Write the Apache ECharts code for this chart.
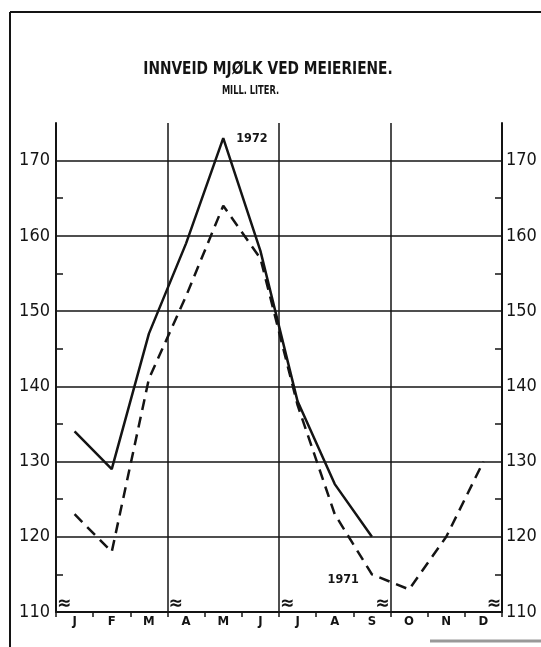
<!DOCTYPE html>
<html>
<head>
<meta charset="utf-8">
<script src="https://cdn.jsdelivr.net/npm/echarts@6/dist/echarts.min.js"></script>
<style>
html,body{margin:0;padding:0;background:#fff;}
#chart{width:541px;height:647px;}
</style>
</head>
<body>
<div id="chart"></div>
<script>
const months = ['J','F','M','A','M','J','J','A','S','O','N','D'];
const values1972 = [134, 129, 147, 159, 173, 158, 138, 127, 120, null, null, null];
const values1971 = [123, 118, 141, 152, 164, 157, 137.5, 123, 115, 113, 120, 130];
const seriesNames = ['1972', '1971'];
const yLabelValues = [110, 120, 130, 140, 150, 160, 170];
const yMinorTicks = [115, 125, 135, 145, 155, 165];
const gridValues = [120, 130, 140, 150, 160, 170];
const titleText = 'INNVEID MJØLK VED MEIERIENE.';
const subtitleText = 'MILL. LITER.';

const INK = '#141414';
const FONT = "'Liberation Sans Narrow', 'DejaVu Sans Condensed', 'Liberation Sans', sans-serif";

const chart = echarts.init(document.getElementById('chart'), null, {renderer: 'canvas'});

function yAxisCfg(pos) {
  return {
    type: 'value', position: pos, min: 110, max: 175,
    axisLine: {show: true, onZero: false, lineStyle: {color: INK, width: 2}},
    axisTick: {show: true, inside: true, length: 7, customValues: yMinorTicks, lineStyle: {color: INK, width: 1.5}},
    splitLine: {show: false},
    axisLabel: {
      show: true, margin: pos === 'left' ? 6 : 4, customValues: yLabelValues,
      fontFamily: FONT, fontSize: 18, color: INK
    }
  };
}

const max1972 = Math.max(...values1972.filter(x => x != null));
const labelled1972 = values1972.map((v) => {
  if (v === max1972) {
    return {value: v, label: {show: true, formatter: seriesNames[0], position: 'right', distance: 13, offset: [0, 1],
      fontFamily: FONT, fontWeight: 'bold', fontSize: 12.5, color: INK}};
  }
  return v;
});
const labelled1971 = values1971.map((v, i) => {
  if (i === 8) {
    return {value: v, label: {show: true, formatter: seriesNames[1], position: 'left', distance: 13, offset: [0, 5],
      fontFamily: FONT, fontWeight: 'bold', fontSize: 12.5, color: INK}};
  }
  return v;
});

const option = {
  backgroundColor: '#fff',
  animation: false,
  grid: {left: 56, right: 39, top: 123, bottom: 35, containLabel: false},
  xAxis: {
    type: 'category', data: months, boundaryGap: true,
    axisLine: {show: true, onZero: false, lineStyle: {color: INK, width: 2}},
    axisTick: {show: true, length: 5, lineStyle: {color: INK, width: 1.5}},
    axisLabel: {margin: 3, fontFamily: FONT, fontWeight: 'bold', fontSize: 13, color: INK, interval: 0},
    splitLine: {show: true, interval: (i) => i % 3 === 0, lineStyle: {color: INK, width: 1.5}}
  },
  yAxis: [yAxisCfg('left'), yAxisCfg('right')],
  series: [
    {
      name: seriesNames[0], type: 'line', data: labelled1972,
      showSymbol: true, symbol: 'circle', symbolSize: 0,
      lineStyle: {color: INK, width: 2.5, type: 'solid'},
      itemStyle: {color: INK},
      label: {show: false},
      markLine: {
        silent: true, symbol: 'none', label: {show: false},
        lineStyle: {color: INK, width: 1.5, type: 'solid'},
        data: gridValues.map(v => ({yAxis: v}))
      },
      z: 3
    },
    {
      name: seriesNames[1], type: 'line', data: labelled1971,
      showSymbol: true, symbol: 'circle', symbolSize: 0,
      lineStyle: {color: INK, width: 2.5, type: [11, 7]},
      itemStyle: {color: INK},
      label: {show: false},
      z: 3
    }
  ]
};
chart.setOption(option);

// titles (condensed), decorative frame and axis-break marks at the quarter lines
const c0 = chart.convertToPixel({xAxisIndex: 0}, 0);
const c1 = chart.convertToPixel({xAxisIndex: 0}, 1);
const bw = c1 - c0;
const yBase = chart.convertToPixel({yAxisIndex: 0}, 110);
const extras = [
  {type: 'text', silent: true, x: 268, y: 69, scaleX: 0.85,
   style: {text: titleText, align: 'center', verticalAlign: 'middle', font: 'bold 18px ' + FONT, fill: INK}},
  {type: 'text', silent: true, x: 250.5, y: 91, scaleX: 0.8,
   style: {text: subtitleText, align: 'center', verticalAlign: 'middle', font: 'bold 11.5px ' + FONT, fill: INK}},
  {type: 'line', silent: true, shape: {x1: 10, y1: 12, x2: 10, y2: 647}, style: {stroke: INK, lineWidth: 2}},
  {type: 'line', silent: true, shape: {x1: 10, y1: 12, x2: 541, y2: 12}, style: {stroke: INK, lineWidth: 2}},
  {type: 'line', silent: true, shape: {x1: 430, y1: 641, x2: 541, y2: 641}, style: {stroke: '#999', lineWidth: 3}}
];
[0, 3, 6, 9, 12].forEach(k => {
  const bx = c0 - bw / 2 + k * bw;
  const right = k < 9;
  extras.push({
    type: 'text', silent: true,
    style: {
      text: '≈', x: right ? bx + 1 : bx - 1, y: yBase - 8,
      align: right ? 'left' : 'right', verticalAlign: 'middle',
      font: 'bold 19px ' + FONT, fill: INK
    }
  });
});
chart.setOption({graphic: extras});
</script>
</body>
</html>
